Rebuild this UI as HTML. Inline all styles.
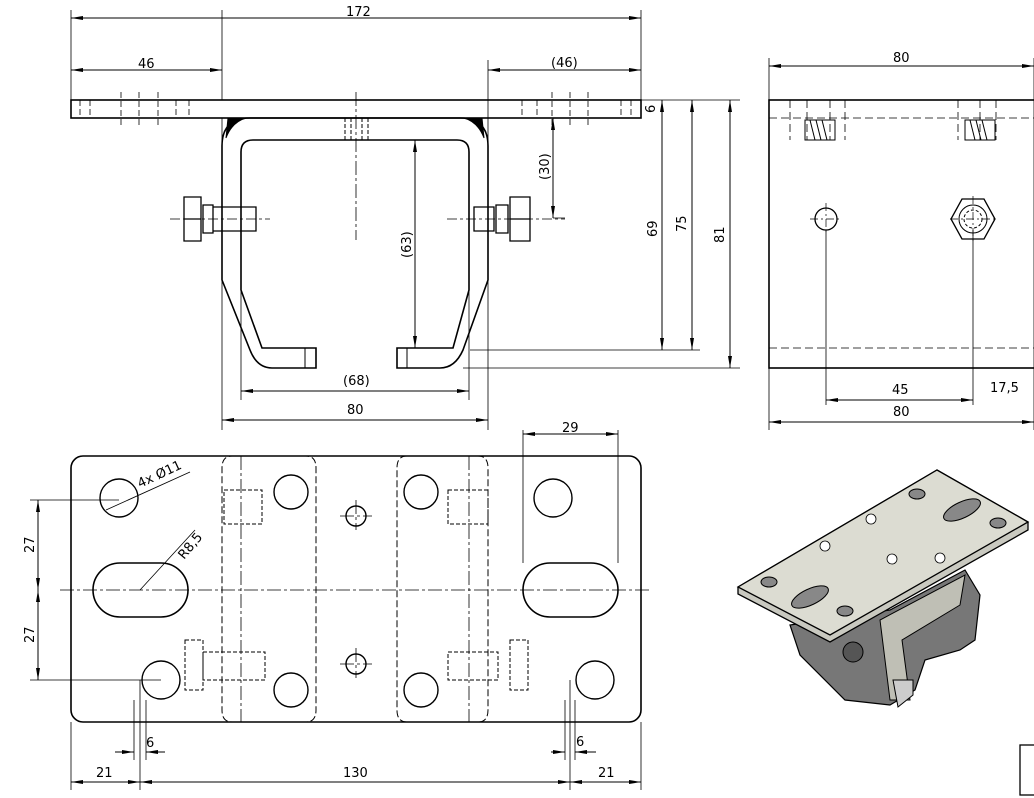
<!DOCTYPE html>
<html><head><style>body{margin:0;background:#fff}svg{display:block}text{font-family:"DejaVu Sans","Liberation Sans",sans-serif;font-size:13px;fill:#000}.d{marker-start:url(#s);marker-end:url(#a)}</style></head><body>
<svg width="1034" height="798" viewBox="0 0 1034 798" xmlns="http://www.w3.org/2000/svg">
<defs><marker id="a" viewBox="0 0 12 6" refX="12" refY="3" markerWidth="12" markerHeight="6" markerUnits="userSpaceOnUse" orient="auto"><path d="M0,1 L12,3 L0,5z" fill="#000"/></marker>
<marker id="s" viewBox="0 0 12 6" refX="0" refY="3" markerWidth="12" markerHeight="6" markerUnits="userSpaceOnUse" orient="auto"><path d="M12,1 L0,3 L12,5z" fill="#000"/></marker></defs>
<g stroke="#000" fill="none" stroke-width="1">
<!-- FRONT VIEW -->
<rect x="71" y="100" width="570" height="18" stroke-width="1.6"/>
<path d="M222,10V100M641,10V100M71,10V100M222,60V100M488,60V430M222,118V430" stroke-width="0.8"/>
<path class="d" d="M71,18H641"/><path class="d" d="M71,70H222"/><path class="d" d="M488,70H641"/>
<g stroke-dasharray="6,3" stroke-width="0.8"><path d="M80,100v18M90,100v18M121,92v34M139,92v34M158,92v34M176,100v18M189,100v18M522,100v18M537,100v18M552,92v34M570,92v34M588,92v34M621,100v18M631,100v18"/></g>
<path d="M356,92V240" stroke-dasharray="14,3,3,3" stroke-width="0.8"/>
<path d="M345,118v22M351,118v22M362,118v22M368,118v22" stroke-dasharray="4,2"/>
<!-- bracket -->
<path d="M250,118H460Q488,118 488,146V280L463,350Q455,368 440,368H397V348H453L469,290V152Q469,140 457,140H253Q241,140 241,152V290L262,348H316V368H272Q257,368 250,350L222,280V146Q222,118 250,118Z" stroke-width="1.6"/>
<path d="M305,348v20M407,348v20"/>
<path d="M228,118H246Q232,122 226,138Z M482,118H464Q478,122 484,138Z" fill="#000"/>
<!-- bolts -->
<path d="M184,197h17v44h-17zM184,219h17M203,205h10v28h-10zM213,207h43v24h-43zM474,207h20v24h-20zM496,205h12v28h-12zM510,197h20v44h-20zM510,219h20" stroke-width="1.3"/>
<path d="M170,219H270M447,219H565" stroke-dasharray="10,3,3,3" stroke-width="0.8"/>
<!-- right dims -->
<path d="M641,100H740M553,218H565M470,350H700M463,368H740" stroke-width="0.8"/>
<path class="d" d="M553,118V218"/><path class="d" d="M415,140V348"/><path class="d" d="M662,100V350"/><path class="d" d="M692,100V350"/><path class="d" d="M730,100V368"/>
<path class="d" d="M241,391H469"/><path class="d" d="M222,420H488"/>
<path d="M241,290V400M469,290V400" stroke-width="0.8"/>
<!-- SIDE VIEW -->
<rect x="769" y="100" width="280" height="268" stroke-width="1.6"/>
<path d="M769,58V430M1034,58V430M826,230V405M973,230V405" stroke-width="0.8"/>
<path class="d" d="M769,66H1034"/><path class="d" d="M826,400H973"/><path class="d" d="M769,422H1034"/>
<path d="M769,118H1034M769,348H1034M790,100V140M807,100V140M830,100V140M845,100V140M958,100V140M980,100V140M996,100V140" stroke-dasharray="8,4" stroke-width="0.8"/>
<path d="M805,120h30v20h-30zM965,120h30v20h-30z" stroke-width="1"/>
<path d="M810,120l5,20M816,120l5,20M822,120l5,20M970,120l5,20M976,120l5,20M982,120l5,20"/>
<circle cx="826" cy="219" r="11" stroke-width="1.3"/>
<path d="M962,199h22l11,20l-11,20h-22l-11,-20z" stroke-width="1.3"/>
<circle cx="973" cy="219" r="14"/><circle cx="973" cy="219" r="9" stroke-dasharray="3,2"/>
<path d="M810,219h32M826,203v32M950,219h46M973,196v46" stroke-dasharray="8,3,2,3" stroke-width="0.7"/>
<!-- TOP VIEW -->
<rect x="71" y="456" width="570" height="266" rx="12" stroke-width="1.6"/>
<path d="M232,456h74q10,0 10,12v242q0,12 -10,12h-74q-10,0 -10,-12v-242q0,-12 10,-12zM407,456h71q10,0 10,12v242q0,12 -10,12h-71q-10,0 -10,-12v-242q0,-12 10,-12z" stroke-dasharray="7,3"/>
<path d="M241,456V722M469,456V722M60,590H650M356,500v30M356,648v30M340,516h32M340,664h32" stroke-dasharray="14,3,3,3" stroke-width="0.8"/>
<rect x="93" y="563" width="95" height="54" rx="27" stroke-width="1.6"/>
<rect x="523" y="563" width="95" height="54" rx="27" stroke-width="1.6"/>
<g stroke-width="1.4"><circle cx="119" cy="498" r="19"/><circle cx="161" cy="680" r="19"/><circle cx="553" cy="498" r="19"/><circle cx="595" cy="680" r="19"/><circle cx="291" cy="492" r="17"/><circle cx="291" cy="690" r="17"/><circle cx="421" cy="492" r="17"/><circle cx="421" cy="690" r="17"/><circle cx="356" cy="516" r="10"/><circle cx="356" cy="664" r="10"/></g>
<path d="M224,490h38v34h-38zM448,490h40v34h-40zM185,640h18v50h-18zM203,652h62v28h-62zM448,652h50v28h-50zM510,640h18v50h-18z" stroke-dasharray="4,2"/>
<!-- top view dims -->
<path d="M30,500H119M30,680H161M140,680V790M570,680V790M71,722V790M641,722V790M523,430V563M618,430V563M134,700V760M565,700V760M575,700V760M146,700V760" stroke-width="0.8"/>
<path class="d" d="M38,500V590"/><path class="d" d="M38,590V680"/><path class="d" d="M71,782H140"/><path class="d" d="M140,782H570"/><path class="d" d="M570,782H641"/><path class="d" d="M523,434H618"/>
<path d="M115,752H134" marker-end="url(#a)"/><path d="M165,752H146" marker-end="url(#a)"/><path d="M551,752H565" marker-end="url(#a)"/><path d="M596,752H575" marker-end="url(#a)"/>
<path d="M106,510L190,472M140,590L195,530" stroke-width="0.8"/>
<!-- ISO VIEW -->
<path d="M790,625L800,655L845,700L890,705L915,690L925,660L960,650L975,640L980,595L965,570L890,610Z" fill="#777" stroke-width="1.2"/>
<path d="M880,620L890,700L910,700L902,640L960,605L965,575Z" fill="#bfbfb5"/>
<path d="M893,680l20,0l0,15l-15,12z" fill="#ccc"/>
<circle cx="853" cy="652" r="10" fill="#555"/>
<path d="M738,587L937,470L1028,522L1028,530L830,642L738,594Z" fill="#c9c9c0" stroke-width="1.3"/>
<path d="M738,587L937,470L1028,522L830,635Z" fill="#dcdcd2" stroke-width="1.3"/>
<g fill="#888" stroke-width="1"><ellipse cx="769" cy="582" rx="8" ry="5"/><ellipse cx="845" cy="611" rx="8" ry="5"/><ellipse cx="917" cy="494" rx="8" ry="5"/><ellipse cx="998" cy="523" rx="8" ry="5"/>
<ellipse cx="810" cy="597" rx="20" ry="8" transform="rotate(-25 810 597)"/><ellipse cx="962" cy="510" rx="20" ry="8" transform="rotate(-25 962 510)"/></g>
<g fill="#fff" stroke-width="0.8"><circle cx="825" cy="546" r="5"/><circle cx="871" cy="519" r="5"/><circle cx="892" cy="559" r="5"/><circle cx="940" cy="558" r="5"/></g>
<rect x="1020" y="745" width="20" height="50" stroke-width="1.3"/>
</g>
<g>
<text x="346" y="16">172</text><text x="138" y="68">46</text><text x="551" y="67">(46)</text>
<text x="655" y="113" transform="rotate(-90 655 113)">6</text>
<text x="549" y="180" transform="rotate(-90 549 180)">(30)</text>
<text x="411" y="258" transform="rotate(-90 411 258)">(63)</text>
<text x="657" y="237" transform="rotate(-90 657 237)">69</text>
<text x="686" y="232" transform="rotate(-90 686 232)">75</text>
<text x="724" y="243" transform="rotate(-90 724 243)">81</text>
<text x="343" y="385">(68)</text><text x="347" y="414">80</text>
<text x="893" y="62">80</text><text x="892" y="394">45</text><text x="990" y="392">17,5</text><text x="893" y="416">80</text>
<text x="562" y="432">29</text>
<text x="34" y="553" transform="rotate(-90 34 553)">27</text>
<text x="34" y="643" transform="rotate(-90 34 643)">27</text>
<text x="96" y="777">21</text><text x="343" y="777">130</text><text x="598" y="777">21</text>
<text x="146" y="747">6</text><text x="576" y="746">6</text>
<text x="140" y="488" transform="rotate(-25 140 488)">4x Ø11</text>
<text x="184" y="560" transform="rotate(-50 184 560)">R8,5</text>
</g>
</svg>
</body></html>
